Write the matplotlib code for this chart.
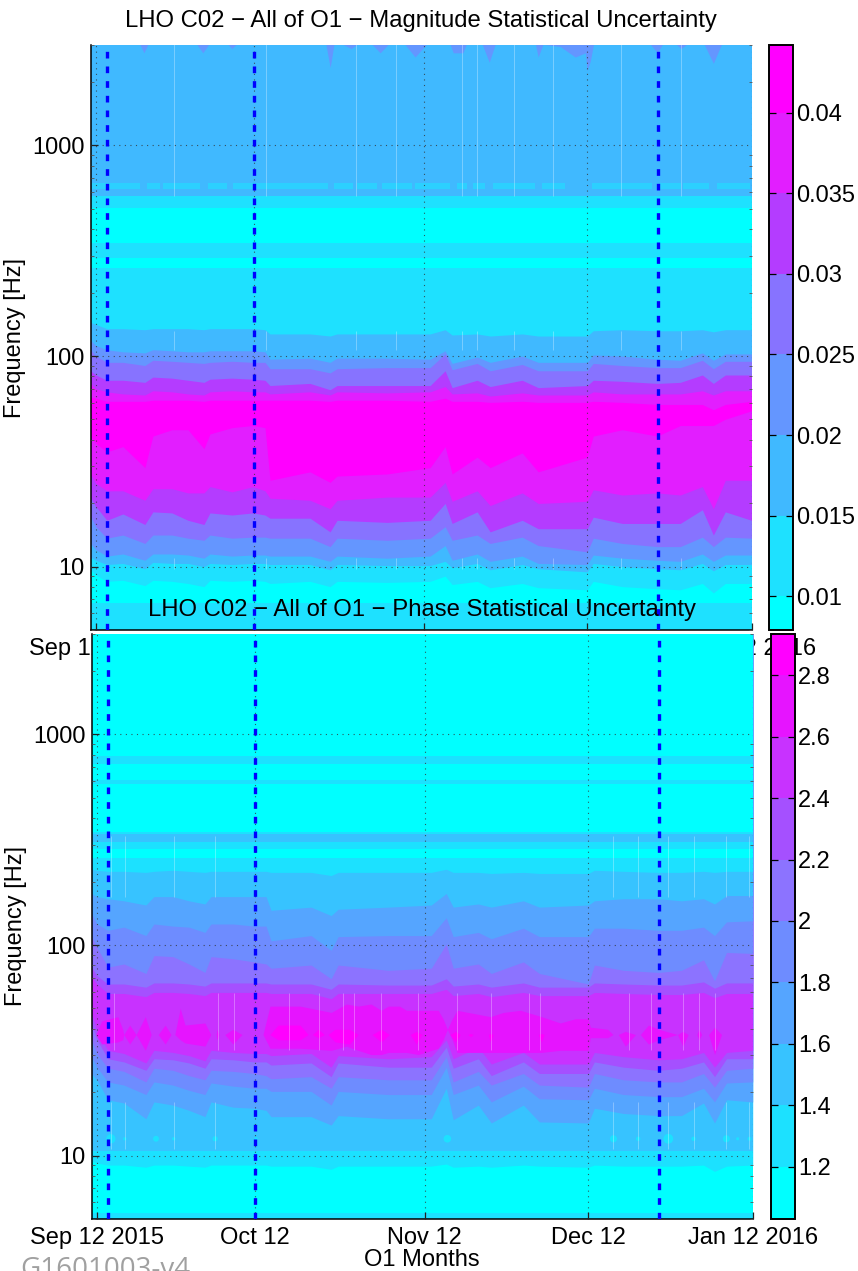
import matplotlib
matplotlib.use("Agg")
import matplotlib.pyplot as plt
import numpy as np
from matplotlib.cm import ScalarMappable
from matplotlib.colors import BoundaryNorm, ListedColormap
from matplotlib.ticker import FixedLocator, NullFormatter

plt.rcParams["font.family"] = ["Liberation Sans", "DejaVu Sans"]

# all times are days after Sep 12 2015, contour edges are log10(frequency / Hz)
TICK_DAYS = [0, 29.4, 61.0, 91.4, 122]
TICK_LABELS = ["Sep 12 2015", "Oct 12", "Nov 12", "Dec 12", "Jan 12 2016"]
EVENT_DAYS = [2.05, 29.4, 104.6]

DAYS = [-1.0, 0.0, 2.05, 5.03, 9.12, 10.61, 14.15, 17.13, 20.11, 21.23, 25.33, 29.24,
        31.47, 32.4, 39.85, 43.58, 44.88, 54.19, 62.2, 64.99, 66.29, 70.95, 73.37,
        79.33, 82.31, 91.43, 92.55, 97.95, 104.47, 108.75, 112.85, 114.9, 117.13, 122.0]
FLAT_DAYS = [-1.0, 122.0]

MAG_COLORS = ["#00ffff", "#1ee1ff", "#40b9ff", "#6496ff", "#8773ff", "#b43cff", "#e21eff", "#ff00ff"]
MAG_CBAR_EDGES = [0.0079, 0.01, 0.015, 0.02, 0.025, 0.03, 0.035, 0.04, 0.0442]
MAG_CBAR_TICKS = [0.01, 0.015, 0.02, 0.025, 0.03, 0.035, 0.04]
MAG_CBAR_LABELS = ["0.01", "0.015", "0.02", "0.025", "0.03", "0.035", "0.04"]

MAG_E2 = [0.985, 0.96, 0.93, 0.935, 0.91, 0.935, 0.93, 0.92, 0.905, 0.935, 0.93, 0.935, 0.93, 0.92, 0.93, 0.905, 0.93, 0.925,
          0.93, 0.955, 0.915, 0.93, 0.90, 0.92, 0.90, 0.89, 0.93, 0.905, 0.895, 0.89, 0.92, 0.875, 0.92, 0.92]
MAG_E3 = [1.045, 1.03, 1.01, 1.015, 0.99, 1.02, 1.015, 1.015, 1.0, 1.015, 1.01, 1.015, 1.015, 1.01, 1.01, 0.985, 1.01, 1.005,
          1.005, 1.025, 0.995, 1.015, 0.985, 1.01, 0.99, 0.975, 1.015, 1.0, 0.99, 0.985, 1.015, 0.98, 1.01, 1.01]
MAG_E4 = [1.11, 1.08, 1.05, 1.06, 1.03, 1.06, 1.06, 1.055, 1.04, 1.06, 1.05, 1.055, 1.055, 1.05, 1.05, 1.025, 1.05, 1.04,
          1.05, 1.10, 1.03, 1.06, 1.025, 1.05, 1.015, 1.01, 1.055, 1.04, 1.03, 1.025, 1.06, 1.025, 1.055, 1.055]
MAG_E5 = [1.24, 1.19, 1.135, 1.15, 1.11, 1.15, 1.15, 1.135, 1.125, 1.15, 1.135, 1.14, 1.14, 1.135, 1.135, 1.095, 1.135, 1.125,
          1.135, 1.19, 1.125, 1.15, 1.11, 1.14, 1.10, 1.07, 1.135, 1.11, 1.095, 1.095, 1.14, 1.095, 1.14, 1.135]
MAG_E6 = [1.33, 1.285, 1.22, 1.25, 1.20, 1.26, 1.255, 1.22, 1.20, 1.255, 1.245, 1.255, 1.245, 1.23, 1.23, 1.165, 1.22, 1.21,
          1.22, 1.30, 1.205, 1.26, 1.165, 1.22, 1.18, 1.18, 1.235, 1.205, 1.205, 1.205, 1.27, 1.15, 1.26, 1.22]
MAG_E7 = [1.44, 1.395, 1.36, 1.36, 1.315, 1.37, 1.37, 1.35, 1.35, 1.38, 1.355, 1.38, 1.36, 1.325, 1.315, 1.275, 1.315, 1.33,
          1.33, 1.40, 1.31, 1.36, 1.29, 1.35, 1.30, 1.31, 1.365, 1.34, 1.35, 1.34, 1.38, 1.275, 1.41, 1.41]
MAG_E8 = [1.62, 1.585, 1.545, 1.57, 1.47, 1.62, 1.65, 1.65, 1.56, 1.63, 1.66, 1.67, 1.66, 1.41, 1.45, 1.40, 1.43, 1.44,
          1.47, 1.57, 1.44, 1.52, 1.47, 1.54, 1.45, 1.52, 1.62, 1.65, 1.62, 1.67, 1.67, 1.67, 1.70, 1.74]
MAG_E9 = [1.805, 1.80, 1.785, 1.785, 1.785, 1.79, 1.79, 1.79, 1.785, 1.79, 1.79, 1.79, 1.79, 1.79, 1.79, 1.785, 1.79, 1.79,
          1.785, 1.80, 1.785, 1.785, 1.78, 1.785, 1.78, 1.78, 1.785, 1.78, 1.77, 1.77, 1.77, 1.745, 1.77, 1.785]
MAG_E10 = [1.87, 1.845, 1.83, 1.82, 1.815, 1.835, 1.83, 1.82, 1.815, 1.83, 1.835, 1.83, 1.83, 1.82, 1.83, 1.815, 1.83, 1.825,
           1.83, 1.855, 1.82, 1.825, 1.81, 1.825, 1.815, 1.815, 1.83, 1.82, 1.82, 1.82, 1.835, 1.815, 1.835, 1.835]
MAG_E11 = [1.93, 1.91, 1.885, 1.885, 1.875, 1.90, 1.895, 1.885, 1.875, 1.89, 1.895, 1.89, 1.885, 1.86, 1.87, 1.84, 1.86, 1.86,
           1.86, 1.93, 1.85, 1.885, 1.855, 1.885, 1.85, 1.86, 1.885, 1.88, 1.87, 1.875, 1.91, 1.87, 1.91, 1.91]
MAG_E12 = [2.03, 2.0, 1.97, 1.97, 1.955, 1.98, 1.975, 1.97, 1.965, 1.97, 1.975, 1.97, 1.97, 1.94, 1.94, 1.92, 1.94, 1.945,
           1.945, 2.01, 1.935, 1.965, 1.93, 1.96, 1.93, 1.93, 1.965, 1.955, 1.945, 1.945, 1.98, 1.94, 1.975, 1.975]
MAG_E13 = [2.075, 2.05, 2.03, 2.02, 2.015, 2.03, 2.025, 2.02, 2.02, 2.025, 2.025, 2.025, 2.02, 1.985, 1.99, 1.97, 1.99, 1.99,
           1.985, 2.025, 1.965, 1.995, 1.97, 2.0, 1.97, 1.97, 2.005, 2.0, 1.985, 1.98, 2.015, 1.98, 2.01, 2.01]
MAG_E14 = [2.16, 2.15, 2.13, 2.13, 2.125, 2.13, 2.13, 2.13, 2.125, 2.13, 2.13, 2.13, 2.125, 2.105, 2.105, 2.095, 2.105, 2.105,
           2.105, 2.125, 2.10, 2.105, 2.095, 2.105, 2.095, 2.095, 2.12, 2.125, 2.12, 2.12, 2.125, 2.115, 2.125, 2.125]

MAG_ISLAND_START = [-0.74, 9.5, 12.5, 20.9, 25.5, 44.3, 48.6, 53.3, 59.4, 67.2, 70.2, 73.9, 83.1, 92.4, 105.0, 109.3, 115.6]
MAG_ISLAND_STOP = [8.2, 11.9, 19.4, 24.4, 43.2, 47.9, 52.3, 58.8, 65.9, 69.1, 72.4, 81.8, 87.3, 103.5, 108.8, 114.0, 121.8]

MAG_NOTCH_DAYS = [-1.0, 8.19, 8.94, 9.68, 18.8, 19.9, 21.0, 24.6, 25.3, 26.1, 42.8, 43.6, 44.3, 46.0, 47.5, 48.6, 51.4, 52.9,
                  54.4, 57.5, 59.4, 61.5, 65.9, 66.5, 68.3, 68.9, 71.9, 73.2, 74.3, 81.8, 82.3, 83.2, 86.4, 89.2, 91.1,
                  91.4, 92.0, 92.6, 103.2, 104.5, 105.4, 108.0, 108.9, 109.9, 113.2, 114.9, 116.4, 122.0]
MAG_NOTCH_LOG = [3.48, 3.48, 3.44, 3.48, 3.48, 3.44, 3.48, 3.48, 3.46, 3.48, 3.48, 3.37, 3.48, 3.48, 3.46, 3.48, 3.48, 3.44,
                 3.48, 3.48, 3.42, 3.48, 3.48, 3.44, 3.44, 3.48, 3.48, 3.395, 3.48, 3.48, 3.42, 3.48, 3.47, 3.42, 3.44,
                 3.355, 3.40, 3.48, 3.48, 3.44, 3.48, 3.48, 3.46, 3.48, 3.48, 3.39, 3.48, 3.48]
MAG_SEAMS = [14.5, 31.7, 48.4, 55.9, 68.2, 70.9, 77.8, 85.1, 97.8, 108.9]

PHA_COLORS = ["#00ffff", "#1ce1ff", "#37c3ff", "#55a5ff", "#6e8cff", "#8c73ff", "#a550ff", "#c832ff", "#e614ff", "#ff00ff"]
PHA_CBAR_EDGES = [1.03, 1.2, 1.4, 1.6, 1.8, 2.0, 2.2, 2.4, 2.6, 2.8, 2.934]
PHA_CBAR_TICKS = [1.2, 1.4, 1.6, 1.8, 2.0, 2.2, 2.4, 2.6, 2.8]
PHA_CBAR_LABELS = ["1.2", "1.4", "1.6", "1.8", "2", "2.2", "2.4", "2.6", "2.8"]

PHA_B1 = [0.975, 0.965, 0.955, 0.955, 0.945, 0.955, 0.955, 0.95, 0.945, 0.955, 0.955, 0.955, 0.955, 0.95, 0.95, 0.935, 0.95, 0.95,
          0.95, 0.96, 0.945, 0.95, 0.945, 0.955, 0.95, 0.945, 0.955, 0.95, 0.95, 0.95, 0.955, 0.925, 0.95, 0.955]
PHA_B3 = [1.39, 1.36, 1.265, 1.25, 1.175, 1.255, 1.24, 1.215, 1.185, 1.255, 1.23, 1.225, 1.215, 1.185, 1.185, 1.145, 1.19, 1.175,
          1.175, 1.32, 1.17, 1.24, 1.155, 1.24, 1.16, 1.155, 1.225, 1.20, 1.19, 1.19, 1.25, 1.155, 1.265, 1.255]
PHA_B4 = [1.47, 1.42, 1.35, 1.335, 1.29, 1.35, 1.335, 1.31, 1.29, 1.345, 1.33, 1.32, 1.32, 1.305, 1.305, 1.24, 1.305, 1.29,
          1.29, 1.42, 1.29, 1.335, 1.255, 1.33, 1.27, 1.265, 1.32, 1.29, 1.28, 1.28, 1.32, 1.255, 1.345, 1.35]
PHA_B5 = [1.55, 1.485, 1.415, 1.40, 1.35, 1.415, 1.405, 1.38, 1.36, 1.405, 1.40, 1.39, 1.38, 1.365, 1.375, 1.32, 1.375, 1.36,
          1.36, 1.47, 1.35, 1.40, 1.335, 1.39, 1.335, 1.325, 1.39, 1.36, 1.35, 1.35, 1.39, 1.325, 1.405, 1.415]
PHA_B6 = [1.63, 1.55, 1.46, 1.445, 1.405, 1.46, 1.455, 1.44, 1.415, 1.46, 1.455, 1.445, 1.445, 1.43, 1.44, 1.375, 1.44, 1.42,
          1.42, 1.515, 1.415, 1.46, 1.38, 1.445, 1.39, 1.39, 1.445, 1.42, 1.405, 1.415, 1.445, 1.375, 1.46, 1.46]
PHA_B7 = [1.675, 1.595, 1.50, 1.485, 1.44, 1.50, 1.49, 1.475, 1.45, 1.50, 1.49, 1.485, 1.485, 1.475, 1.485, 1.42, 1.475, 1.46,
          1.47, 1.55, 1.46, 1.515, 1.435, 1.49, 1.435, 1.435, 1.49, 1.47, 1.455, 1.46, 1.49, 1.42, 1.49, 1.50]
PHA_B9 = [1.85, 1.815, 1.77, 1.77, 1.755, 1.775, 1.775, 1.77, 1.76, 1.775, 1.775, 1.775, 1.775, 1.77, 1.77, 1.745, 1.77, 1.77,
          1.77, 1.79, 1.76, 1.77, 1.755, 1.775, 1.76, 1.76, 1.775, 1.77, 1.765, 1.765, 1.775, 1.75, 1.77, 1.77]
PHA_B10 = [1.895, 1.855, 1.815, 1.815, 1.80, 1.82, 1.82, 1.815, 1.805, 1.82, 1.82, 1.82, 1.82, 1.815, 1.815, 1.79, 1.815, 1.81,
           1.81, 1.84, 1.805, 1.815, 1.80, 1.82, 1.80, 1.80, 1.82, 1.815, 1.81, 1.81, 1.825, 1.795, 1.82, 1.82]
PHA_B11 = [2.04, 1.99, 1.895, 1.91, 1.865, 1.95, 1.945, 1.91, 1.87, 1.945, 1.935, 1.92, 1.91, 1.89, 1.905, 1.84, 1.905, 1.88,
           1.89, 2.005, 1.89, 1.91, 1.865, 1.92, 1.865, 1.815, 1.905, 1.88, 1.87, 1.88, 1.93, 1.83, 1.965, 1.96]
PHA_B12 = [2.15, 2.10, 2.07, 2.085, 2.045, 2.10, 2.09, 2.085, 2.06, 2.10, 2.10, 2.09, 2.09, 2.02, 2.045, 1.975, 2.04, 2.045,
           2.045, 2.13, 2.04, 2.06, 2.03, 2.08, 2.04, 2.04, 2.08, 2.08, 2.07, 2.07, 2.085, 2.045, 2.11, 2.115]
PHA_B13 = [2.245, 2.23, 2.22, 2.21, 2.19, 2.23, 2.23, 2.21, 2.195, 2.23, 2.23, 2.23, 2.23, 2.165, 2.18, 2.14, 2.17, 2.18,
           2.19, 2.245, 2.18, 2.195, 2.18, 2.21, 2.18, 2.19, 2.21, 2.22, 2.22, 2.21, 2.22, 2.195, 2.235, 2.235]
PHA_B14 = [2.36, 2.355, 2.35, 2.35, 2.345, 2.35, 2.355, 2.35, 2.345, 2.35, 2.35, 2.35, 2.35, 2.345, 2.345, 2.33, 2.345, 2.345,
           2.345, 2.36, 2.345, 2.345, 2.34, 2.345, 2.34, 2.34, 2.355, 2.35, 2.345, 2.345, 2.35, 2.345, 2.35, 2.35]

# the 2.6-2.8 and >2.8 regions near 37 Hz, closed off where the band vanishes
PHA_26_DAYS = [-0.2, 0.9, 3.9, 4.8, 5.0, 6.1, 7.3, 9.0, 10.1, 11.4, 12.7, 13.8, 14.5, 15.5, 16.4, 20.1, 21.2, 22.2, 22.3, 22.7,
               23.8, 25.3, 27.0, 30.9, 32.2, 37.8, 43.6, 46.4, 48.6, 51.0, 52.9, 54.2, 56.3, 57.6, 59.8, 63.5, 64.4, 65.2,
               66.1, 67.0, 73.2, 75.6, 78.8, 82.7, 86.2, 89.0, 91.4, 91.8, 95.0, 96.0, 97.0, 98.3, 100.2, 101.1, 102.6,
               104.5, 108.0, 109.0, 110.0, 111.6, 112.0, 112.5, 113.8, 114.9, 116.2, 122.0]
PHA_26_HIGH = [1.575, 1.64, 1.66, 1.60, 1.575, 1.62, 1.575, 1.66, 1.575, 1.575, 1.62, 1.575, 1.575, 1.70, 1.62, 1.63, 1.575, 1.575, 1.60, 1.575,
               1.575, 1.60, 1.575, 1.575, 1.71, 1.71, 1.68, 1.72, 1.71, 1.72, 1.69, 1.71, 1.71, 1.69, 1.69, 1.69, 1.65, 1.60,
               1.65, 1.69, 1.66, 1.68, 1.69, 1.66, 1.63, 1.65, 1.65, 1.61, 1.60, 1.575, 1.575, 1.59, 1.575, 1.575, 1.62,
               1.60, 1.575, 1.59, 1.575, 1.575, 1.60, 1.575, 1.575, 1.61, 1.575, 1.575]
PHA_26_LOW = [1.575, 1.53, 1.54, 1.55, 1.575, 1.53, 1.575, 1.50, 1.575, 1.575, 1.53, 1.575, 1.575, 1.55, 1.535, 1.52, 1.575, 1.575, 1.55, 1.575,
              1.575, 1.53, 1.575, 1.575, 1.51, 1.51, 1.50, 1.52, 1.50, 1.48, 1.48, 1.49, 1.49, 1.49, 1.48, 1.51, 1.55, 1.60,
              1.55, 1.49, 1.49, 1.49, 1.49, 1.49, 1.50, 1.50, 1.50, 1.56, 1.56, 1.575, 1.575, 1.52, 1.575, 1.575, 1.53,
              1.55, 1.575, 1.52, 1.575, 1.575, 1.55, 1.575, 1.575, 1.48, 1.575, 1.575]
PHA_28_DAYS = [32.2, 33.7, 37.8, 39.3, 40.1, 41.2, 42.3, 43.0, 44.3, 47.0, 48.6, 51.2, 52.9, 54.4, 58.3, 59.4, 60.5, 65.7, 66.7,
               67.6, 69.0, 69.5, 70.0, 72.8, 73.2, 73.7, 82.1, 82.7, 83.2]
PHA_28_HIGH = [1.575, 1.62, 1.62, 1.575, 1.575, 1.60, 1.575, 1.575, 1.60, 1.60, 1.575, 1.575, 1.60, 1.575, 1.575, 1.59, 1.575, 1.575, 1.59,
               1.575, 1.575, 1.58, 1.575, 1.575, 1.58, 1.575, 1.575, 1.58, 1.575]
PHA_28_LOW = [1.575, 1.55, 1.55, 1.575, 1.575, 1.56, 1.575, 1.575, 1.54, 1.53, 1.575, 1.575, 1.54, 1.575, 1.575, 1.53, 1.575, 1.575, 1.54,
              1.575, 1.575, 1.565, 1.575, 1.575, 1.54, 1.575, 1.575, 1.54, 1.575]

PHA_BLOB_DAYS = [2.6, 5.2, 11.0, 14.3, 22.0, 29.6, 65.2, 96.1, 100.7, 106.3, 111.0, 117.1, 119.2, 121.4]
PHA_BLOB_LOG = [1.08, 1.08, 1.08, 1.08, 1.08, 1.08, 1.08, 1.08, 1.08, 1.08, 1.08, 1.08, 1.08, 1.08]
PHA_BLOB_SIZE = [45, 6, 18, 6, 14, 6, 30, 26, 10, 50, 10, 26, 5, 8]
PHA_SEAMS_LOW = [2.6, 5.2, 14.3, 22.0, 96.1, 100.7, 106.3, 111.0, 117.1, 121.4]
PHA_SEAMS_MID = [3.2, 22.5, 25.5, 35.8, 41.3, 45.8, 47.9, 52.9, 59.8, 66.9, 73.4, 80.4, 82.5, 98.9, 103.0, 109.1, 112.1, 114.9]

FREQ_LOW, FREQ_HIGH = 5, 3000
W, H = 858, 1271
TEXT_SIZE = 17


def rect(left, top, right, bottom):
    return [left / W, 1 - bottom / H, (right - left) / W, (bottom - top) / H]


def paint(ax, days, edge_log, color):
    # every band is painted from its lower edge to the top, next one goes over it
    ax.fill_between(days, 10 ** np.array(edge_log), FREQ_HIGH * 2, color=color, lw=0, zorder=1)


def flat(value):
    return [value, value]


def style_axes(ax):
    ax.set_yscale("log")
    ax.set_xlim(-1.0, 122)
    ax.set_ylim(FREQ_LOW, FREQ_HIGH)
    ax.set_xticks(TICK_DAYS, TICK_LABELS)
    ax.set_yticks([10, 100, 1000], ["10", "100", "1000"])
    ax.yaxis.set_minor_locator(FixedLocator(
        [m * d for d in (1, 10, 100, 1000) for m in range(2, 10) if 5 <= m * d <= 3000]))
    ax.yaxis.set_minor_formatter(NullFormatter())
    ax.tick_params(axis="both", which="major", direction="in", length=5, width=0.9, labelsize=TEXT_SIZE, pad=6, color="#222222")
    ax.tick_params(axis="y", which="minor", direction="in", length=2.5, width=0.6, left=True, right=True, color="#555555")
    ax.tick_params(axis="y", which="major", pad=4)
    ax.grid(True, which="major", linestyle=(0, (1, 4)), linewidth=0.8, color="#333333", alpha=0.8)
    ax.set_axisbelow(False)
    for side in ("top", "right"):
        ax.spines[side].set_visible(False)
    for side in ("left", "bottom"):
        ax.spines[side].set_linewidth(1.1)
    ax.set_ylabel("Frequency [Hz]", fontsize=TEXT_SIZE)
    ax.yaxis.set_label_coords(-0.098, 0.5)
    for day in EVENT_DAYS:
        ax.axvline(day, color="#0000ff", lw=2.4, linestyle=(0, (2.0, 2.4)), zorder=4, dash_capstyle="butt")


def add_colorbar(fig, box, colors, edges, ticks, labels):
    cax = fig.add_axes(box)
    norm = BoundaryNorm(edges, len(colors))
    sm = ScalarMappable(norm=norm, cmap=ListedColormap(colors))
    cbar = fig.colorbar(sm, cax=cax, ticks=ticks, spacing="proportional", drawedges=False)
    cbar.minorticks_off()
    cbar.ax.set_yticklabels(labels)
    cbar.ax.tick_params(direction="in", length=5, width=0.9, labelsize=TEXT_SIZE, pad=2, left=True, right=True)
    cbar.outline.set_linewidth(1.4)


fig = plt.figure(figsize=(W / 100, H / 100), dpi=100)

# magnitude panel
ax1 = fig.add_axes(rect(90.5, 45, 751.5, 630))
ax1.set_facecolor(MAG_COLORS[1])
paint(ax1, FLAT_DAYS, flat(0.827), MAG_COLORS[0])
for edge, band in [(MAG_E2, 1), (MAG_E3, 2), (MAG_E4, 3), (MAG_E5, 4), (MAG_E6, 5), (MAG_E7, 6), (MAG_E8, 7),
                   (MAG_E9, 6), (MAG_E10, 5), (MAG_E11, 4), (MAG_E12, 3), (MAG_E13, 2), (MAG_E14, 1)]:
    paint(ax1, DAYS, edge, MAG_COLORS[band])
for level, band in [(2.419, 0), (2.465, 1), (2.538, 0), (2.703, 1), (2.761, 2)]:
    paint(ax1, FLAT_DAYS, flat(level), MAG_COLORS[band])
for start, stop in zip(MAG_ISLAND_START, MAG_ISLAND_STOP):
    ax1.fill_between([start, stop], 10 ** 2.793, 10 ** 2.821, color="#2cd0ff", lw=0, zorder=1.5)
ax1.fill_between(MAG_NOTCH_DAYS, 10 ** np.array(MAG_NOTCH_LOG), FREQ_HIGH * 2, color=MAG_COLORS[3], lw=0, zorder=1.5)
for low, high in [(2.76, 3.48), (2.03, 2.12), (0.99, 1.04)]:
    ax1.vlines(MAG_SEAMS, 10 ** low, 10 ** high, color="white", alpha=0.3, lw=0.7, zorder=2)
style_axes(ax1)
ax1.set_title("LHO C02 \u2212 All of O1 \u2212 Magnitude Statistical Uncertainty", fontsize=17.2, pad=13, x=0.5)
add_colorbar(fig, rect(769, 45, 793, 630), MAG_COLORS, MAG_CBAR_EDGES, MAG_CBAR_TICKS, MAG_CBAR_LABELS)

# phase panel, goes over the x labels of the first one
ax2 = fig.add_axes(rect(91.5, 634, 752.7, 1219))
ax2.set_facecolor(PHA_COLORS[1])
paint(ax2, FLAT_DAYS, flat(0.727), PHA_COLORS[0])
paint(ax2, DAYS, PHA_B1, PHA_COLORS[1])
paint(ax2, FLAT_DAYS, flat(1.02), PHA_COLORS[2])
for edge, band in [(PHA_B3, 3), (PHA_B4, 4), (PHA_B5, 5), (PHA_B6, 6), (PHA_B7, 7),
                   (PHA_B9, 6), (PHA_B10, 5), (PHA_B11, 4), (PHA_B12, 3), (PHA_B13, 2), (PHA_B14, 1)]:
    paint(ax2, DAYS, edge, PHA_COLORS[band])
for level, band in [(2.414, 0), (2.454, 1), (2.487, 2), (2.525, 1), (2.536, 0), (2.766, 1), (2.785, 0), (2.86, 1), (2.90, 0)]:
    paint(ax2, FLAT_DAYS, flat(level), PHA_COLORS[band])
ax2.fill_between(PHA_26_DAYS, 10 ** np.array(PHA_26_LOW), 10 ** np.array(PHA_26_HIGH), color=PHA_COLORS[8], lw=0, zorder=1.5)
ax2.fill_between(PHA_28_DAYS, 10 ** np.array(PHA_28_LOW), 10 ** np.array(PHA_28_HIGH), color=PHA_COLORS[9], lw=0, zorder=1.6)
ax2.scatter(PHA_BLOB_DAYS, 10 ** np.array(PHA_BLOB_LOG), s=PHA_BLOB_SIZE, color=PHA_COLORS[1], lw=0, zorder=1.7)
for low, high in [(2.23, 2.52), (1.03, 1.255)]:
    ax2.vlines(PHA_SEAMS_LOW, 10 ** low, 10 ** high, color="white", alpha=0.3, lw=0.7, zorder=2)
ax2.vlines(PHA_SEAMS_MID, 10 ** 1.50, 10 ** 1.77, color="white", alpha=0.3, lw=0.7, zorder=2)
style_axes(ax2)
ax2.set_title("LHO C02 \u2212 All of O1 \u2212 Phase Statistical Uncertainty", fontsize=17.2, pad=13, x=0.5)
ax2.set_xlabel("O1 Months", fontsize=TEXT_SIZE, labelpad=0)
add_colorbar(fig, rect(771, 634, 795, 1219), PHA_COLORS, PHA_CBAR_EDGES, PHA_CBAR_TICKS, PHA_CBAR_LABELS)

fig.text(20 / W, 1 - 1277 / H, "G1601003-v4", fontsize=20, color="#a0a0a0", family="Open Sans")

fig.savefig("out.png", dpi=100)
